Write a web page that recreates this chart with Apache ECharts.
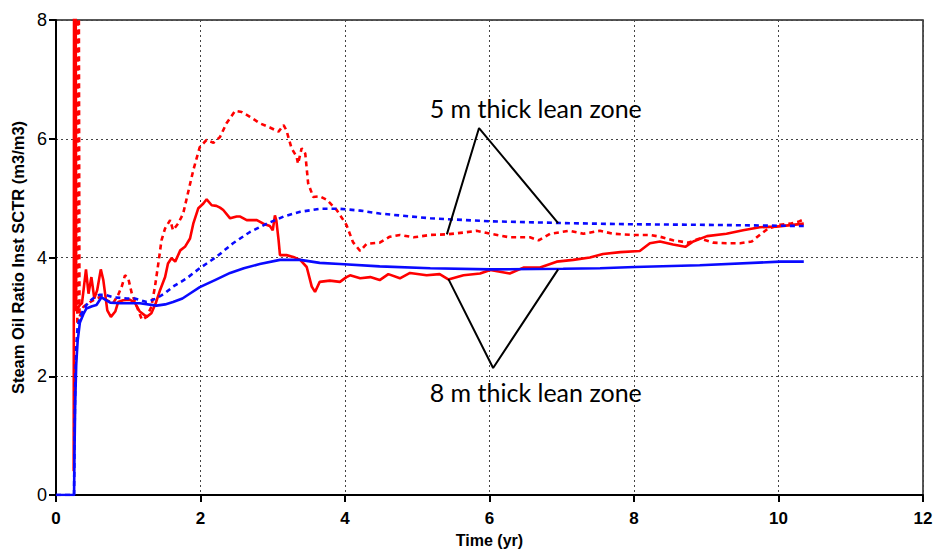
<!DOCTYPE html>
<html>
<head>
<meta charset="utf-8">
<script src="https://cdn.jsdelivr.net/npm/echarts@6/dist/echarts.min.js"></script>
<style>
html,body{margin:0;padding:0;background:#fff;}
#chart{width:937px;height:552px;}
</style>
</head>
<body>
<div id="chart"></div>
<script>
// Time (yr) vs Steam Oil Ratio Inst SCTR (m3/m3)
var xTicks = [0, 2, 4, 6, 8, 10, 12];
var yTicks = [0, 2, 4, 6, 8];

// 8 m thick lean zone – red solid
var red8m = [[0.245,0.4],[0.25,9],[0.272,9],[0.28,3.1],[0.33,3.2],[0.36,3.23],[0.415,3.80],[0.45,3.39],[0.49,3.67],[0.53,3.31],[0.57,3.45],[0.62,3.80],[0.655,3.62],[0.71,3.11],[0.76,3.0],[0.82,3.09],[0.86,3.25],[0.93,3.28],[1.02,3.29],[1.09,3.24],[1.16,3.09],[1.255,3.0],[1.32,3.06],[1.38,3.23],[1.44,3.45],[1.51,3.67],[1.55,3.90],[1.60,3.99],[1.65,3.93],[1.72,4.12],[1.785,4.18],[1.855,4.32],[1.90,4.57],[1.97,4.83],[2.04,4.91],[2.085,4.98],[2.155,4.88],[2.22,4.87],[2.27,4.84],[2.315,4.80],[2.41,4.66],[2.50,4.69],[2.55,4.69],[2.64,4.63],[2.78,4.63],[2.87,4.57],[2.96,4.53],[3.0,4.46],[3.03,4.71],[3.05,4.62],[3.08,4.3],[3.10,4.04],[3.19,4.04],[3.285,4.01],[3.38,3.96],[3.47,3.84],[3.54,3.51],[3.585,3.42],[3.65,3.59],[3.79,3.61],[3.93,3.59],[4.02,3.67],[4.07,3.70],[4.21,3.65],[4.35,3.67],[4.48,3.62],[4.60,3.72],[4.76,3.65],[4.90,3.74],[5.13,3.70],[5.31,3.72],[5.43,3.63],[5.64,3.70],[5.87,3.73],[6.01,3.79],[6.28,3.73],[6.47,3.83],[6.70,3.83],[6.93,3.93],[7.16,3.96],[7.39,4.0],[7.57,4.06],[7.81,4.09],[8.08,4.11],[8.22,4.24],[8.36,4.27],[8.54,4.22],[8.71,4.18],[8.82,4.27],[9.01,4.36],[9.28,4.40],[9.51,4.46],[9.74,4.51],[9.97,4.52],[10.20,4.55],[10.35,4.57]];

// 5 m thick lean zone – red dashed
var red5m = [[0.295,2.9],[0.30,9],[0.315,9],[0.325,3.0],[0.38,3.17],[0.47,3.25],[0.56,3.31],[0.63,3.34],[0.70,3.28],[0.79,3.23],[0.86,3.37],[0.91,3.51],[0.955,3.70],[1.0,3.65],[1.05,3.39],[1.12,3.17],[1.19,2.95],[1.255,3.0],[1.32,3.17],[1.37,3.51],[1.42,3.93],[1.46,4.29],[1.51,4.49],[1.58,4.63],[1.62,4.46],[1.69,4.57],[1.76,4.74],[1.81,5.0],[1.90,5.47],[1.99,5.86],[2.085,5.98],[2.18,5.93],[2.27,6.03],[2.36,6.26],[2.48,6.47],[2.57,6.45],[2.685,6.37],[2.82,6.26],[2.96,6.19],[3.08,6.12],[3.15,6.23],[3.19,6.14],[3.26,5.84],[3.33,5.70],[3.35,5.58],[3.40,5.84],[3.45,5.75],[3.49,5.25],[3.56,5.02],[3.65,5.03],[3.75,4.97],[3.885,4.80],[4.02,4.55],[4.11,4.26],[4.21,4.11],[4.30,4.23],[4.48,4.25],[4.62,4.35],[4.76,4.38],[4.95,4.34],[5.18,4.38],[5.41,4.39],[5.64,4.42],[5.82,4.45],[6.01,4.40],[6.28,4.34],[6.56,4.34],[6.68,4.29],[6.84,4.40],[7.11,4.45],[7.30,4.40],[7.53,4.45],[7.71,4.40],[7.99,4.38],[8.22,4.38],[8.36,4.35],[8.54,4.29],[8.75,4.25],[8.91,4.32],[9.10,4.25],[9.28,4.24],[9.47,4.24],[9.63,4.27],[9.74,4.38],[9.86,4.49],[10.02,4.55],[10.16,4.57],[10.27,4.60],[10.35,4.64]];

// 8 m thick lean zone – blue solid
var blue8m = [[0,0],[0.25,0],[0.255,0.6],[0.265,1.5],[0.28,2.2],[0.30,2.6],[0.33,2.9],[0.38,3.05],[0.42,3.14],[0.50,3.18],[0.56,3.2],[0.63,3.33],[0.75,3.24],[0.89,3.23],[1.16,3.23],[1.39,3.19],[1.51,3.21],[1.62,3.25],[1.75,3.31],[1.85,3.39],[1.99,3.50],[2.2,3.62],[2.41,3.74],[2.6,3.82],[2.82,3.89],[3.1,3.96],[3.38,3.96],[3.65,3.91],[3.93,3.89],[4.48,3.85],[5.18,3.82],[6.01,3.80],[7.02,3.81],[7.53,3.82],[8.01,3.84],[8.91,3.87],[10.02,3.93],[10.35,3.93]];

// 5 m thick lean zone – blue dashed
var blue5m = [[0,0],[0.25,0],[0.255,0.8],[0.265,1.8],[0.28,2.5],[0.30,2.85],[0.35,3.05],[0.42,3.2],[0.50,3.3],[0.60,3.37],[0.68,3.37],[0.80,3.33],[0.98,3.31],[1.09,3.31],[1.255,3.25],[1.39,3.31],[1.51,3.40],[1.62,3.51],[1.81,3.65],[1.99,3.82],[2.22,4.01],[2.45,4.24],[2.685,4.43],[2.92,4.57],[3.15,4.69],[3.38,4.77],[3.65,4.82],[3.93,4.82],[4.21,4.79],[4.48,4.74],[5.18,4.66],[6.01,4.61],[7.02,4.58],[7.94,4.56],[9.0,4.55],[10.35,4.53]];

// annotation pointers and labels
var ann5Lines = [[5.41,4.39],[5.855,6.18],[6.95,4.58]];
var ann8Lines = [[5.43,3.64],[6.05,2.14],[6.95,3.80]];
var annLabels = [['5 m thick lean zone', 6.64, 6.52], ['8 m thick lean zone', 6.64, 1.73]];

var chart = echarts.init(document.getElementById('chart'), null, {renderer: 'svg'});
var RED = '#ff0000', BLUE = '#0a0aff';
var lw = 2.6;
function line(data, color, dashed, z) {
  return {
    type: 'line', data: data, symbol: 'none', animation: false, silent: true, z: z,
    lineStyle: {color: color, width: lw, type: dashed ? [5, 4] : 'solid'}
  };
}
chart.setOption({
  animation: false,
  backgroundColor: '#fff',
  grid: {left: 56, right: 14, top: 20, bottom: 57, containLabel: false, outerBoundsMode: 'none', show: true, borderColor: '#222', borderWidth: 1.5, backgroundColor: 'transparent'},
  xAxis: {
    type: 'value', min: xTicks[0], max: xTicks[xTicks.length - 1], interval: 2,
    name: 'Time (yr)', nameLocation: 'middle', nameGap: 37,
    nameTextStyle: {fontFamily: 'Liberation Sans Narrow, Liberation Sans, Arial', fontWeight: 'bold', fontSize: 16, color: '#000'},
    axisLine: {show: true, lineStyle: {color: '#000', width: 2}},
    axisTick: {show: true, length: 7, lineStyle: {color: '#000', width: 2}},
    axisLabel: {margin: 15, fontFamily: 'Liberation Sans Narrow, Liberation Sans, Arial', fontWeight: 'bold', fontSize: 17, color: '#000'},
    splitLine: {show: true, lineStyle: {color: '#444', width: 1, type: [2, 3]}}
  },
  yAxis: {
    type: 'value', min: yTicks[0], max: yTicks[yTicks.length - 1], interval: 2,
    name: 'Steam Oil Ratio Inst SCTR (m3/m3)', nameLocation: 'middle', nameGap: 27,
    nameTextStyle: {fontFamily: 'Liberation Sans, Arial', fontWeight: 'bold', fontSize: 16.5, color: '#000'},
    axisLine: {show: true, lineStyle: {color: '#000', width: 2}},
    axisTick: {show: true, length: 7, lineStyle: {color: '#000', width: 2}},
    axisLabel: {margin: 9, fontFamily: 'Liberation Sans, Arial', fontSize: 18, color: '#000'},
    splitLine: {show: true, lineStyle: {color: '#444', width: 1, type: [2, 3]}}
  },
  series: [
    line(red8m, RED, false, 2),
    line(red5m, RED, true, 2),
    line(blue8m, BLUE, false, 3),
    line(blue5m, BLUE, true, 3),
    {type: 'line', data: ann5Lines, symbol: 'none', silent: true, z: 4, lineStyle: {color: '#000', width: 2}},
    {type: 'line', data: ann8Lines, symbol: 'none', silent: true, z: 4, lineStyle: {color: '#000', width: 2}},
    {
      type: 'scatter', symbolSize: 0, silent: true, z: 5,
      itemStyle: {opacity: 1},
      data: annLabels.map(function (a) { return {name: a[0], value: [a[1], a[2]]}; }),
      label: {show: true, position: 'inside', formatter: '{b}', fontFamily: 'Lato, Open Sans, sans-serif', fontSize: 25, color: '#000', opacity: 1, textBorderWidth: 0}
    }
  ]
});
</script>
</body>
</html>
